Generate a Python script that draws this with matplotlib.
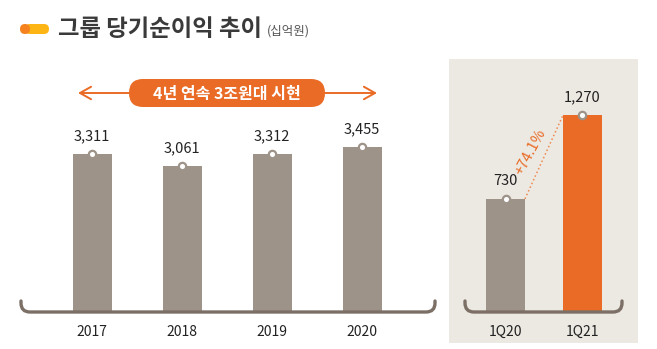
import matplotlib.pyplot as plt
from matplotlib.patches import FancyBboxPatch, Rectangle, PathPatch
from matplotlib.path import Path

plt.rcParams['font.family'] = ['Noto Sans CJK KR', 'DejaVu Sans']

# 연간 당기순이익 (십억원)
years = ['2017', '2018', '2019', '2020']
annual = [3311, 3061, 3312, 3455]
# 분기 당기순이익 (십억원)
quarters = ['1Q20', '1Q21']
quarterly = [730, 1270]
growth_label = '+74.1%'

GRAY = '#9d9389'
ORANGE = '#e96b25'
BRACKET = '#7b6f66'
PANEL_BG = '#ece8e2'
TEXT = '#222222'
FONT = ['Noto Sans CJK KR', 'DejaVu Sans']

W, H = 657, 349
fig = plt.figure(figsize=(W / 100, H / 100), dpi=100)


def px_axes(x0, x1, y_top, y_bottom, **kw):
    # 픽셀 좌표(위에서부터)로 축 위치 지정
    return fig.add_axes([x0 / W, 1 - y_bottom / H, (x1 - x0) / W, (y_bottom - y_top) / H], **kw)


# 배경 레이어
bg = px_axes(0, W, 0, H, zorder=0)
bg.set_xlim(0, W)
bg.set_ylim(H, 0)
bg.axis('off')
bg.add_patch(Rectangle((449, 59), 189, 284, color=PANEL_BG, lw=0))


def bar_panel(ax, labels, values, color_list, ymax, width):
    x = range(len(values))
    ax.bar(x, values, width=width, color=color_list, zorder=2)
    ax.scatter(x, values, s=28, facecolor='white', edgecolor=GRAY, linewidth=1.6, zorder=3)
    for xi, v in zip(x, values):
        ax.annotate(f'{v:,}', (xi, v), xytext=(0, 8), textcoords='offset points',
                    ha='center', va='bottom', fontsize=10.5, color=TEXT,
                    family=FONT, fontweight='medium')
    ax.set_ylim(0, ymax)
    ax.set_xticks(list(x))
    ax.set_xticklabels(labels, fontsize=10, color=TEXT, family=FONT, fontweight='medium')
    ax.tick_params(axis='x', length=0, pad=9)
    ax.set_yticks([])
    for s in ax.spines.values():
        s.set_visible(False)
    ax.patch.set_alpha(0)


# 연간 패널
ax1 = px_axes(20, 436, 60, 312, zorder=1)
ax1.set_xlim(-0.8, 3.82)
bar_panel(ax1, years, annual, [GRAY] * 4, 252 / 0.04772, 0.433)

# 분기 패널
ax2 = px_axes(464, 623, 60, 312, zorder=1)
ax2.set_xlim(-0.539, 1.526)
bar_panel(ax2, quarters, quarterly, [GRAY, ORANGE], 252 / 0.155, 0.506)

# 증가율 점선: 두 막대 상단 모서리 연결
hw = 0.506 / 2
ax2.plot([0 + hw, 1 - hw], quarterly, ls=':', color='#f08a50', lw=1.1, zorder=1)
ax2.text(0.33, (quarterly[0] + quarterly[1]) / 2 + 30, growth_label, rotation=62,
         ha='center', va='center', fontsize=10.5, color=ORANGE, family=FONT)

# 전면 레이어: 제목, 괄호, 강조 라벨
fg = px_axes(0, W, 0, H, zorder=4)
fg.set_xlim(0, W)
fg.set_ylim(H, 0)
fg.axis('off')
fg.patch.set_alpha(0)

# 제목 아이콘
fg.add_patch(FancyBboxPatch((25, 24), 24, 10, boxstyle='round,pad=0,rounding_size=5',
                            color='#fdb515', lw=0))
fg.add_patch(FancyBboxPatch((20, 24), 10, 10, boxstyle='round,pad=0,rounding_size=5',
                            color='#f5821f', lw=0))
fg.text(58, 29.5, '그룹 당기순이익 추이', fontsize=16.8, fontweight='bold',
        color='#3a3a3a', va='center', ha='left')
fg.text(267, 31, '(십억원)', fontsize=9, color='#555555', va='center', ha='left')


def bracket(x0, x1, top=301, bottom=312, r=9):
    verts = [(x0, top), (x0, bottom - r), (x0, bottom), (x0 + r, bottom),
             (x1 - r, bottom), (x1, bottom), (x1, bottom - r), (x1, top)]
    codes = [Path.MOVETO, Path.LINETO, Path.CURVE3, Path.CURVE3,
             Path.LINETO, Path.CURVE3, Path.CURVE3, Path.LINETO]
    fg.add_patch(PathPatch(Path(verts, codes), fill=False, edgecolor=BRACKET,
                           lw=2.4, capstyle='round'))


bracket(21, 435)
bracket(465, 622)

# 강조 라벨과 양방향 화살표
fg.add_patch(FancyBboxPatch((129, 79), 196, 28, boxstyle='round,pad=0,rounding_size=14',
                            color=ORANGE, lw=0))
fg.text(227, 93.5, '4년 연속 3조원대 시현', fontsize=11.5, fontweight='bold',
        color='white', ha='center', va='center')
for xa, xb in [(129, 78), (325, 377)]:
    fg.annotate('', xy=(xb, 93), xytext=(xa, 93),
                arrowprops=dict(arrowstyle='->,head_length=0.8,head_width=0.45',
                                color=ORANGE, lw=1.4, shrinkA=0, shrinkB=0))

fig.savefig('out.png', dpi=100)
